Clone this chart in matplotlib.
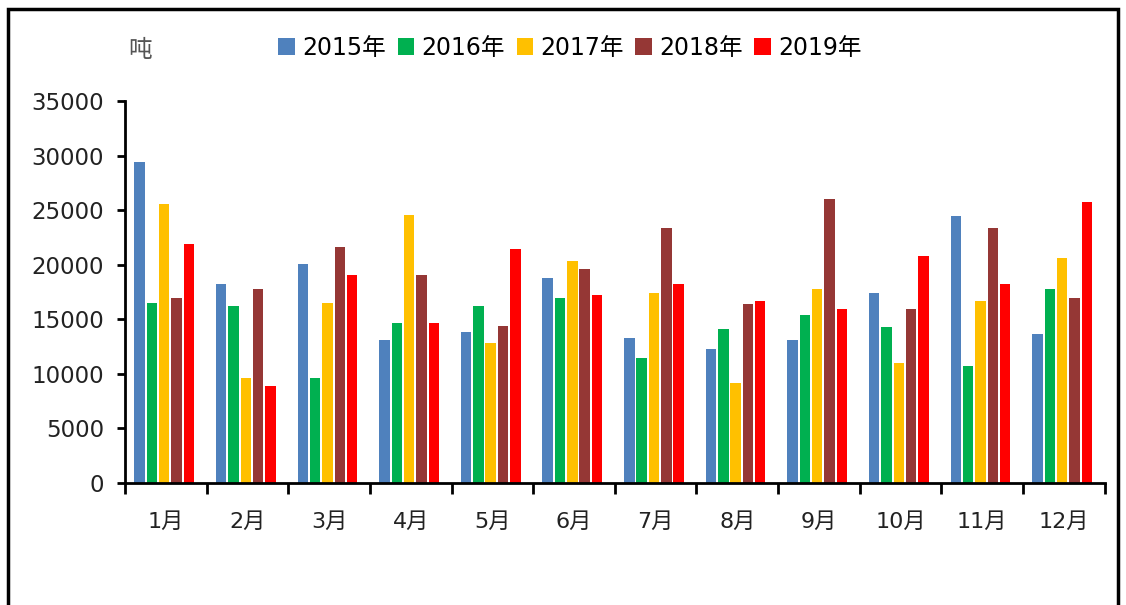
import numpy as np
import matplotlib
matplotlib.use('Agg')
import matplotlib.pyplot as plt
from matplotlib.patches import Rectangle

plt.rcParams['font.family'] = ['DejaVu Sans', 'Noto Sans CJK SC']

months = ['1月', '2月', '3月', '4月', '5月', '6月', '7月', '8月', '9月', '10月', '11月', '12月']
years = ['2015年', '2016年', '2017年', '2018年', '2019年']

y2015 = [29400, 18260, 20100, 13070, 13870, 18810, 13310, 12250, 13070, 17440, 24460, 13620]
y2016 = [16460, 16220, 9650, 14630, 16220, 16950, 11480, 14080, 15390, 14320, 10720, 17750]
y2017 = [25530, 9650, 16460, 24530, 12800, 20340, 17440, 9130, 17750, 10970, 16680, 20590]
y2018 = [16980, 17750, 21620, 19060, 14390, 19580, 23390, 16430, 25990, 15910, 23390, 16920]
y2019 = [21930, 8890, 19060, 14630, 21410, 17200, 18200, 16680, 15910, 20800, 18200, 25780]

series = [y2015, y2016, y2017, y2018, y2019]
colors = ['#4F81BD', '#00B050', '#FFC000', '#953735', '#FF0000']

fig = plt.figure(figsize=(11.26, 6.05), dpi=100)
ax = fig.add_axes([0.111, 0.2017, 0.870, 0.6314])

x = np.arange(len(months))
step = 0.151
width = 0.128
for i, (vals, c, lab) in enumerate(zip(series, colors, years)):
    ax.bar(x - 0.02 + (i - 2) * step, vals, width=width, color=c, label=lab)

ax.set_xlim(-0.5, 11.5)
ax.set_ylim(0, 35000)
ax.set_yticks(range(0, 35001, 5000))
ax.set_xticks(x)
ax.set_xticklabels(months)
ax.set_xticks(np.arange(-0.5, 12, 1), minor=True)
ax.tick_params(axis='x', which='major', length=0, pad=21, labelsize=16, colors='#222222')
ax.tick_params(axis='x', which='minor', length=8, width=2, direction='out', color='black')
ax.tick_params(axis='y', length=6, width=2, direction='out', labelsize=16.5, pad=9,
               color='black', labelcolor='#222222')

for s in ['top', 'right']:
    ax.spines[s].set_visible(False)
for s in ['left', 'bottom']:
    ax.spines[s].set_linewidth(2)

fig.text(128 / 1126, 1 - 50 / 605, '吨', fontsize=17, color='#555555', ha='left', va='center')

fig.legend(loc='center', bbox_to_anchor=(570 / 1126, 1 - 48 / 605), ncol=5, frameon=False,
           handlelength=0.7, handleheight=0.7, handletextpad=0.3, columnspacing=0.5, fontsize=17)

# frame around the picture
fig.patches.append(Rectangle((8 / 1126, -0.05), 1110 / 1126, 1 - 9 / 605 + 0.05,
                             transform=fig.transFigure, fill=False, edgecolor='black', linewidth=2.5))

fig.savefig('out.png', dpi=100)
